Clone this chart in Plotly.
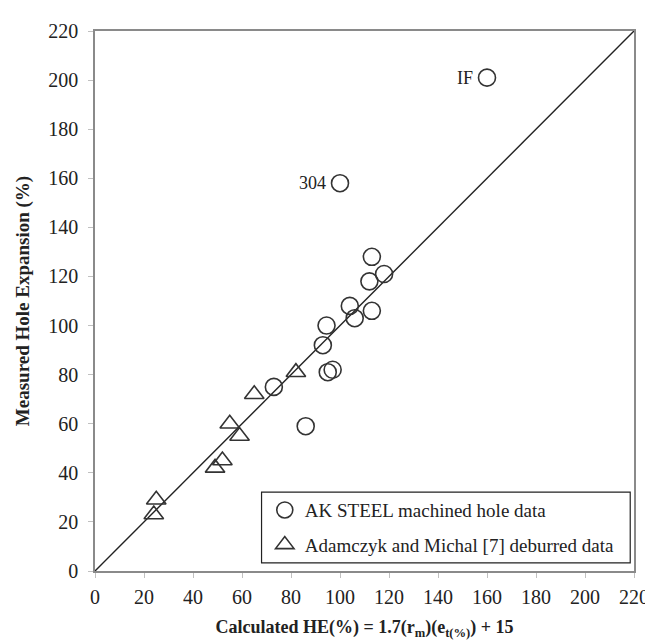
import plotly.graph_objects as go

# AK STEEL machined hole data (calculated HE, measured HE)
ak_x = [160, 100, 113, 112, 118, 104, 106, 113, 94.5, 93, 95, 97, 73, 86]
ak_y = [201, 158, 128, 118, 121, 108, 103, 106, 100, 92, 81, 82, 75, 59]
ak_labels = ["IF", "304"]

# Adamczyk and Michal [7] deburred data
am_x = [25, 24, 49, 52, 55, 59, 65, 82]
am_y = [29, 23, 42, 45, 60, 55, 72, 81]

line_x = [0, 220]
line_y = [0, 220]

tick_vals = list(range(0, 221, 20))

FONT = "Liberation Serif"
INK = "#333333"
TXT = "#222222"

fig = go.Figure()
fig.add_trace(go.Scatter(x=line_x, y=line_y, mode="lines",
                         line=dict(color="#222222", width=1.4),
                         showlegend=False, hoverinfo="skip"))
fig.add_trace(go.Scatter(x=ak_x, y=ak_y, mode="markers",
                         name="AK STEEL machined hole data", legendgroup="a",
                         marker=dict(symbol="circle-open", size=17,
                                     color=INK, line=dict(width=1.6, color=INK))))
fig.add_trace(go.Scatter(x=am_x, y=am_y, mode="markers",
                         name="Adamczyk and Michal [7] deburred data", legendgroup="b",
                         marker=dict(symbol="triangle-up-open", size=17,
                                     color=INK, line=dict(width=1.6, color=INK))))

for i, lab in enumerate(ak_labels):
    fig.add_annotation(x=ak_x[i], y=ak_y[i], text=lab, showarrow=False,
                       xanchor="right", xshift=-12,
                       font=dict(family=FONT, size=18, color=TXT))

# legend frame
fig.add_shape(type="rect", xref="paper", yref="paper",
              x0=0.309, x1=0.993, y0=0.015, y1=0.146,
              line=dict(color="#222222", width=1.2), fillcolor="white", layer="below")

axis_common = dict(range=[0, 220], tickvals=tick_vals,
                   showgrid=False, zeroline=False,
                   showline=True, linecolor="#8a8a8a", linewidth=1.5, mirror=True,
                   ticks="outside", ticklen=5, tickcolor="#c0c0c0",
                   tickfont=dict(family=FONT, size=20, color=TXT))

fig.update_layout(
    width=653, height=641,
    margin=dict(l=87, r=16, t=16, b=78),
    plot_bgcolor="white", paper_bgcolor="white",
    xaxis=dict(**axis_common, ticklabelstandoff=2,
               title=dict(text="<b>Calculated HE(%) = 1.7(r<sub>m</sub>)(e<sub>t(%)</sub>) + 15</b>",
                          font=dict(family=FONT, size=18, color=TXT), standoff=14)),
    yaxis=dict(**axis_common, ticklabelstandoff=6,
               title=dict(text="<b>Measured Hole Expansion (%)</b>",
                          font=dict(family=FONT, size=19, color=TXT), standoff=14)),
    legend=dict(x=0.315, y=0.148, xanchor="left", yanchor="top",
                bgcolor="rgba(0,0,0,0)", borderwidth=0,
                font=dict(family=FONT, size=19, color=TXT),
                itemwidth=30, tracegroupgap=7),
    showlegend=True,
)

fig.write_html("out.html")
